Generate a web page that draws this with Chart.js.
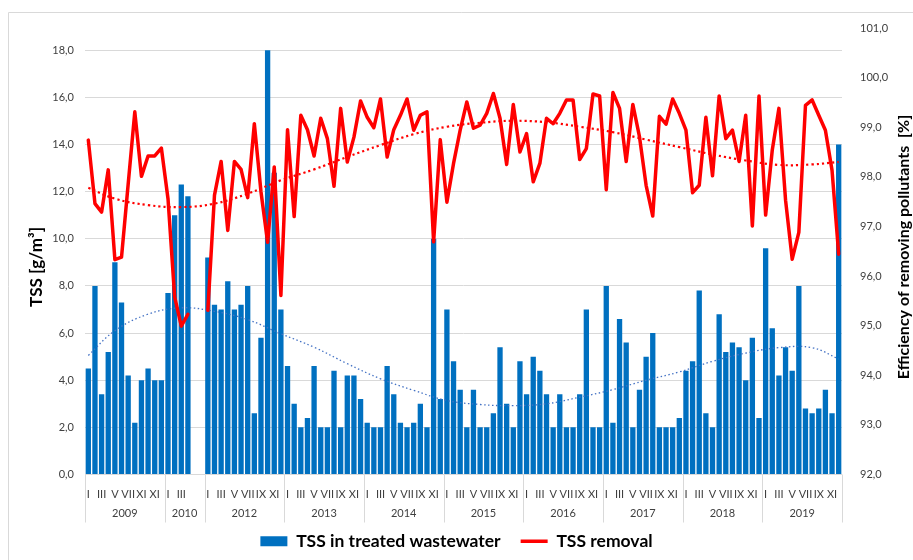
<!DOCTYPE html>
<html>
<head>
<meta charset="utf-8">
<script src="https://cdn.jsdelivr.net/npm/chart.js@4"></script>
<style>
  html, body { margin: 0; padding: 0; background: #fff; }
</style>
</head>
<body>
<canvas id="myChart" width="913" height="560"></canvas>
<script>
// categories: years and how many months each one has on the axis
var years = ['2009', '2010', '2012', '2013', '2014', '2015', '2016', '2017', '2018', '2019'];
var monthsInYear = [12, 6, 12, 12, 12, 12, 12, 12, 12, 12];
var romans = ['I', 'II', 'III', 'IV', 'V', 'VI', 'VII', 'VIII', 'IX', 'X', 'XI', 'XII'];
// 2010 has two empty months at the end, 2009 IX is labelled "XI" in the source
var labels2009 = ['I', 'II', 'III', 'IV', 'V', 'VI', 'VII', 'VIII', 'XI', 'X', 'XI', 'XII'];
var labels2010 = ['I', 'II', 'III', 'IV', '', ''];

// TSS in treated wastewater [g/m3], one row per year
var tss = [
  4.5, 8.0, 3.4, 5.2, 9.0, 7.3, 4.2, 2.2, 4.0, 4.5, 4.0, 4.0,
  7.7, 11.0, 12.3, 11.8, null, null,
  9.2, 7.2, 7.0, 8.2, 7.0, 7.2, 8.0, 2.6, 5.8, 18.0, 12.8, 7.0,
  4.6, 3.0, 2.0, 2.4, 4.6, 2.0, 2.0, 4.4, 2.0, 4.2, 4.2, 3.2,
  2.2, 2.0, 2.0, 4.6, 3.4, 2.2, 2.0, 2.2, 3.0, 2.0, 10.0, 3.2,
  7.0, 4.8, 3.6, 2.0, 3.6, 2.0, 2.0, 2.6, 5.4, 3.0, 2.0, 4.8,
  3.4, 5.0, 4.4, 3.4, 2.0, 3.4, 2.0, 2.0, 3.4, 7.0, 2.0, 2.0,
  8.0, 2.2, 6.6, 5.6, 2.0, 3.6, 5.0, 6.0, 2.0, 2.0, 2.0, 2.4,
  4.4, 4.8, 7.8, 2.6, 2.0, 6.8, 5.2, 5.6, 5.4, 4.0, 5.8, 2.4,
  9.6, 6.2, 4.2, 5.4, 4.4, 8.0, 2.8, 2.6, 2.8, 3.6, 2.6, 14.0
];

// TSS removal efficiency [%]
var removal = [
  98.74, 97.46, 97.29, 98.14, 96.33, 96.38, 97.85, 99.31, 98.01, 98.42, 98.42, 98.58,
  97.56, 95.58, 94.99, 95.23, null, null,
  95.31, 97.63, 98.31, 96.92, 98.31, 98.15, 97.58, 99.07, 97.70, 96.68, 98.20, 95.61,
  98.95, 97.20, 99.24, 98.95, 98.42, 99.18, 98.77, 97.81, 99.38, 98.30, 98.80, 99.53,
  99.20, 98.99, 99.57, 98.40, 98.95, 99.24, 99.57, 98.94, 99.24, 99.31, 96.69, 98.75,
  97.49, 98.27, 98.94, 99.51, 98.98, 99.04, 99.28, 99.68, 99.18, 98.25, 99.46, 98.50,
  98.87, 97.90, 98.27, 99.18, 99.07, 99.28, 99.55, 99.55, 98.35, 98.57, 99.67, 99.63,
  97.74, 99.70, 99.38, 98.31, 99.46, 98.81, 97.83, 97.21, 99.22, 99.06, 99.57, 99.28,
  98.94, 97.68, 97.83, 99.20, 98.02, 99.63, 98.77, 98.94, 98.31, 99.24, 97.01, 99.63,
  97.23, 98.54, 99.38, 97.53, 96.34, 96.88, 99.44, 99.55, 99.24, 98.94, 98.13, 96.44
];

// trendlines at a few category positions
var trendIdx = [0, 4, 9, 14, 19, 24, 29, 34, 39, 44, 49, 54, 59, 64, 69, 74, 79, 84, 89, 94, 99, 104, 109, 113];
var trendTss = [5.05, 6.1, 6.8, 7.07, 6.92, 6.57, 5.97, 5.4, 4.7, 4.06, 3.57, 3.14, 2.97, 2.92, 3.0, 3.28, 3.6, 4.0, 4.35, 4.8, 5.15, 5.38, 5.38, 4.9];
var trendRemoval = [97.78, 97.56, 97.43, 97.39, 97.46, 97.66, 97.93, 98.15, 98.4, 98.64, 98.86, 99.01, 99.09, 99.13, 99.1, 99.01, 98.9, 98.75, 98.6, 98.45, 98.33, 98.24, 98.25, 98.3];

var labels = [];
var monthPos = [];
years.forEach(function(yr, k) {
  for (var m = 0; m < monthsInYear[k]; m++) {
    var name = romans[m];
    if (yr === '2009') name = labels2009[m];
    if (yr === '2010') name = labels2010[m];
    labels.push(name);
    monthPos.push(m);
  }
});

function sparse(idx, vals) {
  var arr = labels.map(function() { return null; });
  idx.forEach(function(i, k) { arr[i] = vals[k]; });
  return arr;
}

function comma(v) {
  return Number(v).toFixed(1).replace('.', ',');
}

var FONT = 'Lato, "Open Sans", sans-serif';

var yearAxis = {
  id: 'yearAxis',
  afterDraw: function(chart) {
    var ctx = chart.ctx;
    var x = chart.scales.x;
    var area = chart.chartArea;
    ctx.save();
    ctx.strokeStyle = '#D9D9D9';
    ctx.lineWidth = 1;
    ctx.fillStyle = '#404040';
    ctx.font = '11px ' + FONT;
    ctx.textAlign = 'center';
    ctx.textBaseline = 'middle';
    var start = 0;
    var x1 = 0;
    years.forEach(function(yr, k) {
      var n = monthsInYear[k];
      var x0 = x.getPixelForValue(start - 0.5);
      x1 = x.getPixelForValue(start + n - 0.5);
      ctx.beginPath();
      ctx.moveTo(Math.round(x0) + 0.5, area.bottom);
      ctx.lineTo(Math.round(x0) + 0.5, area.bottom + 48);
      ctx.stroke();
      ctx.fillText(yr, (x0 + x1) / 2, area.bottom + 39);
      start += n;
    });
    ctx.beginPath();
    ctx.moveTo(Math.round(x1) + 0.5, area.bottom);
    ctx.lineTo(Math.round(x1) + 0.5, area.bottom + 48);
    ctx.stroke();

    // outer chart border (cropped on the right and bottom)
    ctx.beginPath();
    ctx.moveTo(8.5, 600);
    ctx.lineTo(8.5, 12.5);
    ctx.lineTo(950, 12.5);
    ctx.stroke();

    // axis titles
    ctx.fillStyle = '#000';
    ctx.font = 'bold 17px ' + FONT;
    ctx.save();
    ctx.translate(37, 267);
    ctx.rotate(-Math.PI / 2);
    ctx.fillText('TSS [g/m\u00B3]', 0, 0);
    ctx.restore();
    ctx.font = 'bold 16px ' + FONT;
    ctx.save();
    ctx.translate(904, 247);
    ctx.rotate(-Math.PI / 2);
    ctx.fillText('Efficiency of removing pollutants  [%]', 0, 0);
    ctx.restore();
    ctx.restore();
  }
};

var ctx = document.getElementById('myChart').getContext('2d');
var chart = new Chart(ctx, {
  type: 'bar',
  data: {
    labels: labels,
    datasets: [{
      type: 'bar',
      label: 'TSS in treated wastewater',
      data: tss,
      backgroundColor: '#0070C0',
      borderWidth: 0,
      barPercentage: 0.8,
      categoryPercentage: 1.0,
      pointStyle: 'rect',
      yAxisID: 'y',
      order: 3
    }, {
      type: 'line',
      label: 'TSS removal',
      data: removal,
      borderColor: '#FF0000',
      backgroundColor: '#FF0000',
      borderWidth: 3.5,
      borderJoinStyle: 'round',
      borderCapStyle: 'round',
      pointRadius: 0,
      pointStyle: 'line',
      spanGaps: false,
      tension: 0,
      yAxisID: 'y1',
      order: 1
    }, {
      type: 'line',
      label: 'trend TSS',
      data: sparse(trendIdx, trendTss),
      borderColor: '#4472C4',
      borderWidth: 1.3,
      borderDash: [1.5, 2.5],
      pointRadius: 0,
      spanGaps: true,
      tension: 0.4,
      yAxisID: 'y',
      order: 2
    }, {
      type: 'line',
      label: 'trend removal',
      data: sparse(trendIdx, trendRemoval),
      borderColor: '#FF0000',
      borderWidth: 2.2,
      borderDash: [2.2, 3],
      pointRadius: 0,
      spanGaps: true,
      tension: 0.4,
      yAxisID: 'y1',
      order: 2
    }]
  },
  options: {
    responsive: false,
    animation: false,
    devicePixelRatio: 1,
    layout: { padding: { top: 28, left: 0, right: 0, bottom: 0 } },
    plugins: {
      tooltip: { enabled: false },
      legend: {
        position: 'bottom',
        labels: {
          usePointStyle: true,
          pointStyleWidth: 27,
          boxHeight: 10,
          padding: 20,
          color: '#000',
          font: { family: FONT, size: 17.5, weight: 'bold' },
          filter: function(item) { return item.datasetIndex < 2; },
          sort: function(a, b) { return a.datasetIndex - b.datasetIndex; }
        }
      }
    },
    scales: {
      x: {
        type: 'category',
        offset: true,
        grid: { display: false },
        border: { display: false },
        afterFit: function(s) { s.height = 38; },
        ticks: {
          autoSkip: false,
          maxRotation: 0,
          minRotation: 0,
          padding: 5,
          color: '#404040',
          font: { family: FONT, size: 11 },
          callback: function(v, i) { return monthPos[i] % 2 === 0 ? labels[i] : ''; }
        }
      },
      y: {
        position: 'left',
        min: 0,
        max: 18.94,
        grid: { color: '#D9D9D9', drawTicks: false },
        border: { display: false },
        afterFit: function(s) { s.width = 85; },
        ticks: {
          stepSize: 2,
          includeBounds: false,
          padding: 11,
          color: '#404040',
          font: { family: FONT, size: 11 },
          callback: comma
        }
      },
      y1: {
        position: 'right',
        min: 92,
        max: 101,
        grid: { display: false },
        border: { display: false },
        afterFit: function(s) { s.width = 71; },
        ticks: {
          stepSize: 1,
          padding: 10,
          color: '#404040',
          font: { family: FONT, size: 11 },
          callback: comma
        }
      }
    }
  },
  plugins: [yearAxis]
});
</script>
</body>
</html>
